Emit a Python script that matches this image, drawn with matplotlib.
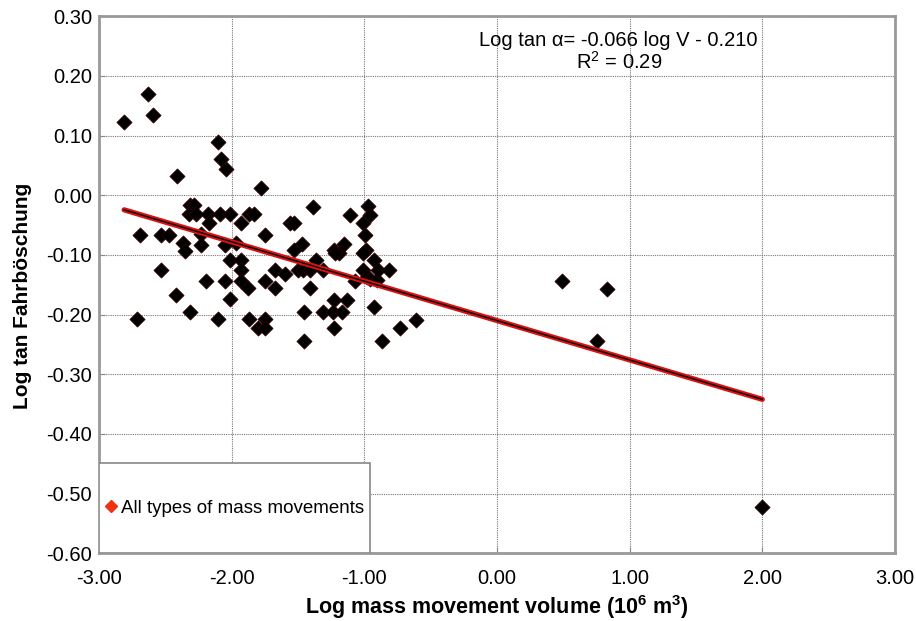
import numpy as np
import matplotlib
matplotlib.use("Agg")
import matplotlib.pyplot as plt
from matplotlib.lines import Line2D
from matplotlib.patches import Rectangle

plt.rcParams['font.family'] = ['Liberation Sans', 'DejaVu Sans']
plt.rcParams['mathtext.fontset'] = 'custom'
plt.rcParams['mathtext.rm'] = 'Liberation Sans'
plt.rcParams['mathtext.bf'] = 'Liberation Sans:bold'

# log volume (10^6 m3) and log tan of the travel angle
log_volume = [
    -2.81, -2.63, -2.59, -2.10, -2.077, -2.04, -2.41, -1.78,
    -2.31, -2.28, -2.32, -2.27, -2.18, -2.17, -2.09, -2.01, -1.93, -1.87, -1.83, -1.75,
    -2.69, -2.53, -2.47, -2.37, -2.35, -2.23, -2.23, -2.05, -1.97, -2.01, -1.93, -1.93,
    -1.93, -1.88, -2.53, -2.19, -2.05, -1.75, -1.67, -1.67, -2.42, -2.01, -2.31, -2.71,
    -2.10, -1.87, -1.75, -1.80, -1.75,
    -1.386, -1.107, -0.974, -0.96, -1.007, -0.996, -1.56, -1.53, -1.47, -1.53, -1.23,
    -1.19, -1.22, -1.15, -0.986, -1.007, -0.926, -1.363, -1.595, -1.50, -1.46, -1.41,
    -1.31, -1.007, -0.98, -0.96, -0.905, -0.90, -0.815, -1.067, -1.41, -1.23, -1.13,
    -1.456, -1.313, -1.233, -1.167, -0.93, -1.23, -1.456, -0.866, -0.73, -0.61,
    0.488, 0.827, 0.757, 2.00,
]
log_tan = [
    0.122, 0.169, 0.135, 0.089, 0.060, 0.044, 0.032, 0.012,
    -0.017, -0.017, -0.032, -0.032, -0.032, -0.047, -0.032, -0.032, -0.047, -0.032, -0.032, -0.066,
    -0.066, -0.066, -0.066, -0.080, -0.094, -0.065, -0.083, -0.083, -0.080, -0.109, -0.109, -0.126,
    -0.143, -0.156, -0.126, -0.143, -0.143, -0.143, -0.126, -0.156, -0.168, -0.174, -0.195, -0.208,
    -0.208, -0.208, -0.208, -0.222, -0.222,
    -0.019, -0.033, -0.018, -0.033, -0.047, -0.067, -0.047, -0.047, -0.082, -0.092, -0.092,
    -0.097, -0.097, -0.082, -0.091, -0.097, -0.109, -0.109, -0.132, -0.125, -0.125, -0.125,
    -0.125, -0.125, -0.137, -0.140, -0.142, -0.125, -0.125, -0.144, -0.156, -0.175, -0.175,
    -0.195, -0.195, -0.195, -0.195, -0.188, -0.223, -0.244, -0.244, -0.223, -0.209,
    -0.144, -0.157, -0.244, -0.523,
]

x_ticks = [-3, -2, -1, 0, 1, 2, 3]
y_ticks = [-0.6, -0.5, -0.4, -0.3, -0.2, -0.1, 0.0, 0.1, 0.2, 0.3]

slope = -0.066
intercept = -0.210
r_squared = 0.29

fig = plt.figure(figsize=(9.16, 6.21), dpi=100)
ax = fig.add_axes([0.108, 0.109, 0.869, 0.865])

ax.set_xlim(-3, 3)
ax.set_ylim(-0.6, 0.3)
ax.set_xticks(x_ticks)
ax.set_yticks(y_ticks)
ax.set_xticklabels([f'{v:.2f}' for v in x_ticks])
ax.set_yticklabels([f'{v:.2f}' for v in y_ticks])
ax.tick_params(labelsize=14.5, direction='in', length=4, color='#888888')
ax.tick_params(axis='y', pad=5)
ax.tick_params(axis='x', pad=11)
ax.grid(True, linestyle=(0, (1, 1)), color='#777777', linewidth=0.8)
ax.set_axisbelow(True)
for s in ax.spines.values():
    s.set_color('#999999')
    s.set_linewidth(2)

ax.scatter(log_volume, log_tan, marker='D', s=60, color='black',
           edgecolors='#3a0000', linewidths=0.5, zorder=3)

# fitted trend over the range of the data
xs = np.array([min(log_volume), max(log_volume)])
ys = slope * xs + intercept
ax.plot(xs, ys, color='#dd1111', lw=3.8, solid_capstyle='round', zorder=4)
ax.plot(xs, ys, color='black', lw=1.0, zorder=5)

ax.text(0.653, 0.955, f'Log tan α= {slope:.3f} log V - {-intercept:.3f}',
        transform=ax.transAxes, ha='center', va='center', fontsize=14.5)
ax.text(0.653, 0.914, r'R$^{2}$' + f' = {r_squared:.2f}',
        transform=ax.transAxes, ha='center', va='center', fontsize=14.5)

ax.set_xlabel(r'Log mass movement volume (10$^{\mathbf{6}}$ m$^{\mathbf{3}}$)',
              fontsize=15.5, fontweight='bold', labelpad=4)
ax.set_ylabel('Log tan Fahrböschung', fontsize=15, fontweight='bold')
ax.yaxis.set_label_coords(-0.084, 0.48)

# legend box in the lower left corner
box = Rectangle((0, 0), 0.34, 0.168, transform=ax.transAxes, facecolor='white',
                edgecolor='#888888', lw=1.2, zorder=6)
ax.add_patch(box)
handle = Line2D([], [], marker='D', color='#ee3311', linestyle='none', markersize=6)
leg = ax.legend([handle], ['All types of mass movements'], loc='center left',
                bbox_to_anchor=(-0.008, 0.084), frameon=False, fontsize=13.5,
                handletextpad=-0.1, handlelength=1.2, borderaxespad=0)
leg.set_zorder(7)

fig.savefig('out.png', dpi=100)
